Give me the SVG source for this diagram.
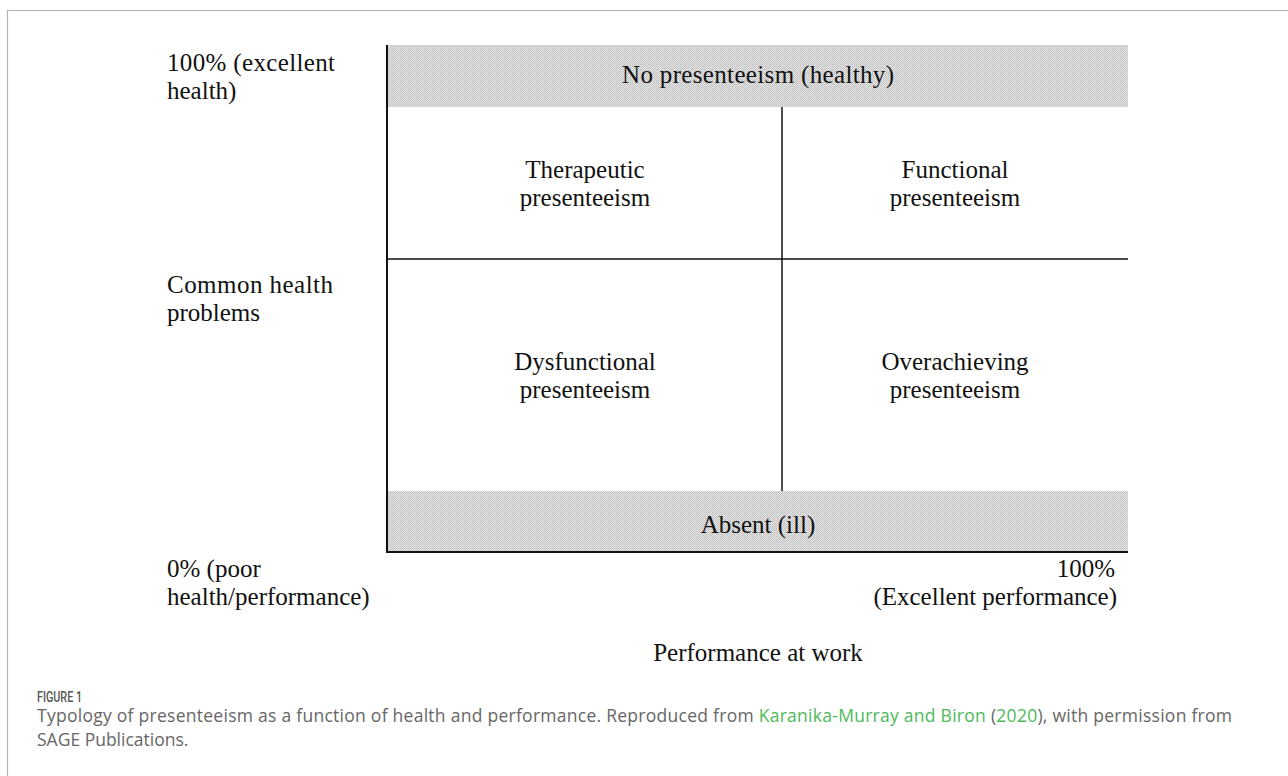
<svg xmlns="http://www.w3.org/2000/svg" width="1288" height="776" viewBox="0 0 1288 776">
  <defs>
    <!-- fine grey screen used for the two shaded bands -->
    <pattern id="screen" width="2" height="2" patternUnits="userSpaceOnUse">
      <rect width="2" height="2" fill="#e6e6e6"/>
      <rect width="1" height="1" fill="#bdbdbd"/>
      <rect x="1" y="1" width="1" height="1" fill="#c6c6c6"/>
    </pattern>
    <style>
      .lbl { font-family: "Liberation Serif", "Times New Roman", serif; font-size: 25px; fill: #111; }
      .mid { text-anchor: middle; }
      .end { text-anchor: end; }
      .band { fill: url(#screen); }
      .axis { stroke: #111; stroke-width: 2; fill: none; }
      .div { stroke: #111; stroke-width: 1.5; fill: none; }
      .cap { font-family: "Open Sans", "Noto Sans", sans-serif; font-size: 17.5px; fill: #666; }
      .link { fill: #4cba5a; }
      .fig { font-family: Roboto, "Open Sans", sans-serif; font-size: 14px; font-weight: 500; fill: #555; }
    </style>
  </defs>

  <rect width="1288" height="776" fill="#fff"/>
  <!-- page frame -->
  <path d="M7.5 776 V10.5 H1288" fill="none" stroke="#b3b3b3" stroke-width="1.2"/>

  <!-- shaded bands -->
  <g id="no-presenteeism">
    <rect class="band" x="388" y="45" width="740" height="62"/>
    <text class="lbl mid" x="758" y="83" textLength="272" lengthAdjust="spacing">No presenteeism (healthy)</text>
  </g>
  <g id="absent">
    <rect class="band" x="388" y="491" width="740" height="60"/>
    <text class="lbl mid" x="758" y="533">Absent (ill)</text>
  </g>

  <!-- quadrants -->
  <g id="therapeutic">
    <text class="lbl mid" x="585" y="178">Therapeutic</text>
    <text class="lbl mid" x="585" y="206">presenteeism</text>
  </g>
  <g id="functional">
    <text class="lbl mid" x="955" y="178">Functional</text>
    <text class="lbl mid" x="955" y="206">presenteeism</text>
  </g>
  <g id="dysfunctional">
    <text class="lbl mid" x="585" y="370">Dysfunctional</text>
    <text class="lbl mid" x="585" y="398">presenteeism</text>
  </g>
  <g id="overachieving">
    <text class="lbl mid" x="955" y="370">Overachieving</text>
    <text class="lbl mid" x="955" y="398">presenteeism</text>
  </g>

  <!-- axis labels -->
  <g id="health-top">
    <text class="lbl" x="167" y="71" textLength="168" lengthAdjust="spacing">100% (excellent</text>
    <text class="lbl" x="167" y="99">health)</text>
  </g>
  <g id="health-mid">
    <text class="lbl" x="167" y="293" textLength="166" lengthAdjust="spacing">Common health</text>
    <text class="lbl" x="167" y="321">problems</text>
  </g>
  <g id="origin">
    <text class="lbl" x="167" y="577">0% (poor</text>
    <text class="lbl" x="167" y="605">health/performance)</text>
  </g>
  <g id="perf-max">
    <text class="lbl end" x="1115" y="577">100%</text>
    <text class="lbl end" x="1117" y="605">(Excellent performance)</text>
  </g>
  <g id="perf-title">
    <text class="lbl mid" x="758" y="661">Performance at work</text>
  </g>

  <!-- axes and dividers -->
  <g id="connectors">
    <path class="axis" d="M387 45 V553"/>
    <path class="axis" d="M386 552 H1128"/>
    <path class="div" d="M782 107 V491"/>
    <path class="div" d="M387 259 H1128"/>
  </g>

  <!-- caption -->
  <g id="caption">
    <text class="fig" x="37" y="702" textLength="45" lengthAdjust="spacingAndGlyphs">FIGURE 1</text>
    <text class="cap" x="37" y="722" textLength="1195" lengthAdjust="spacing">Typology of presenteeism as a function of health and performance. Reproduced from <tspan class="link">Karanika-Murray and Biron</tspan> (<tspan class="link">2020</tspan>), with permission from</text>
    <text class="cap" x="37" y="746">SAGE Publications.</text>
  </g>
</svg>
